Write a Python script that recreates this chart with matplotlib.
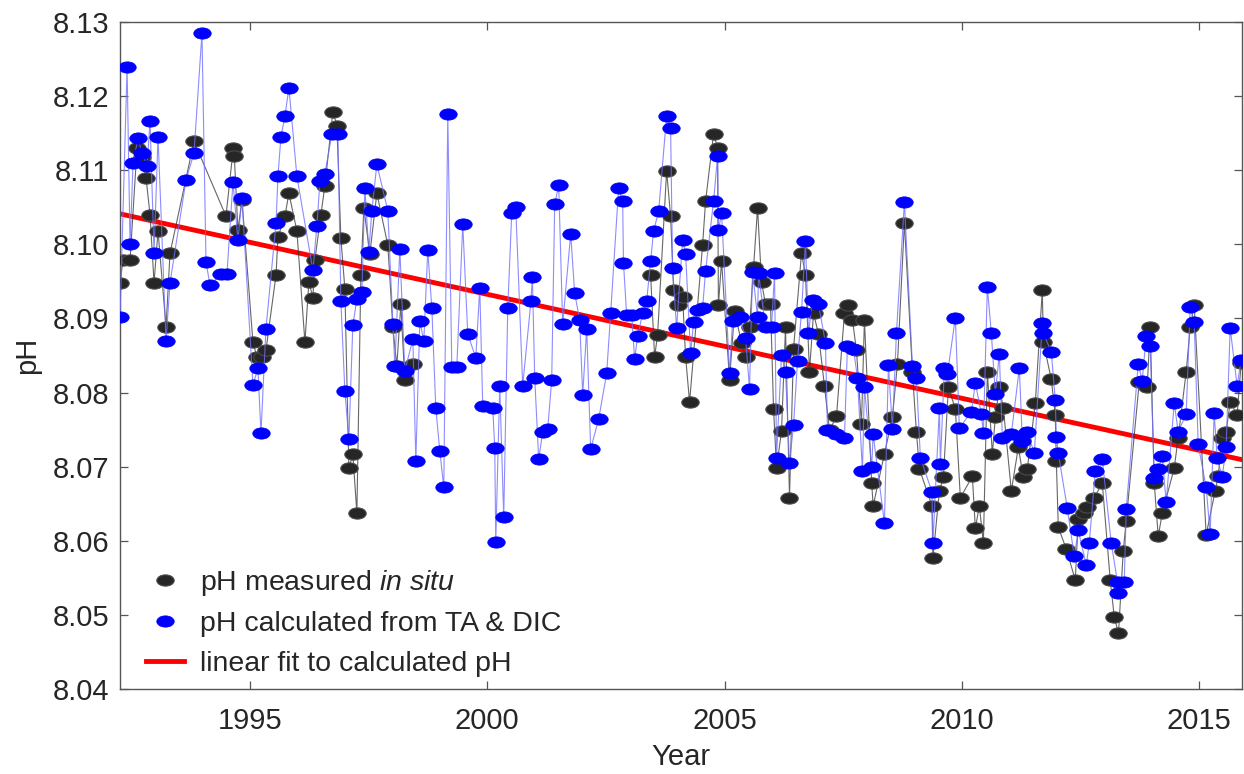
import numpy as np
import matplotlib

matplotlib.use("Agg")
import matplotlib.pyplot as plt
from matplotlib.path import Path
from matplotlib.transforms import Affine2D

plt.rcParams["font.family"] = ["Liberation Sans", "DejaVu Sans"]
plt.rcParams["mathtext.fontset"] = "custom"
plt.rcParams["mathtext.rm"] = "Liberation Sans"
plt.rcParams["mathtext.it"] = "Liberation Sans:italic"

TEXT_COLOR = "#262626"
AXIS_COLOR = "#555555"
BLACK_FILL = "#262626"
BLUE = "#0000FF"
RED = "#FF0000"

# pH measured in situ (nan = gap in the record, 1998-2003)
meas_year = [
    1992.263, 1992.326, 1992.474, 1992.621, 1992.726, 1992.811, 1992.895, 1992.979,
    1993.063, 1993.232, 1993.316, 1993.821, 1994.495, 1994.650, 1994.670, 1994.747,
    1994.832, 1995.063, 1995.147, 1995.253, 1995.337, 1995.550, 1995.590, 1995.737,
    1995.821, 1995.989, 1996.158, 1996.242, 1996.326, 1996.368, 1996.495, 1996.579,
    1996.747, 1996.832, 1996.916, 1997.000, 1997.084, 1997.168, 1997.253, 1997.337,
    1997.400, 1997.526, 1997.674, 1997.905, 1998.011, 1998.095, 1998.179, 1998.263,
    1998.432, np.nan,
    2003.442, 2003.526, 2003.589, 2003.779, 2003.863, 2003.926, 2004.011, 2004.116,
    2004.179, 2004.263, 2004.537, 2004.600, 2004.768, 2004.853, 2004.870, 2004.937,
    2005.105, 2005.211, 2005.358, 2005.442, 2005.526, 2005.611, 2005.695, 2005.779,
    2005.863, 2005.968, 2006.032, 2006.095, 2006.200, 2006.284, 2006.368, 2006.453,
    2006.621, 2006.705, 2006.789, 2006.874, 2006.979, 2007.105, 2007.211, 2007.358,
    2007.526, 2007.611, 2007.695, 2007.779, 2007.884, 2007.947, 2008.100, 2008.130,
    2008.368, 2008.537, 2008.642, 2008.789, 2008.958, 2009.042, 2009.105, 2009.370,
    2009.390, 2009.526, 2009.611, 2009.716, 2009.863, 2009.968, 2010.221, 2010.284,
    2010.368, 2010.453, 2010.537, 2010.642, 2010.705, 2010.789, 2010.874, 2011.042,
    2011.189, 2011.295, 2011.379, 2011.547, 2011.695, 2011.716, 2011.884, 2011.968,
    2011.990, 2012.032, 2012.200, 2012.389, 2012.453, 2012.579, 2012.642, 2012.789,
    2012.958, 2013.126, 2013.211, 2013.300, 2013.400, 2013.463, 2013.737, 2013.905,
    2013.968, 2014.053, 2014.137, 2014.221, 2014.474, 2014.558, 2014.726, 2014.811,
    2014.895, 2015.147, 2015.337, 2015.400, 2015.484, 2015.568, 2015.653, 2015.800,
    2015.884,
]
meas_ph = [
    8.0948, 8.0979, 8.0979, 8.1130, 8.1118, 8.1089, 8.1040, 8.0948,
    8.1018, 8.0888, 8.0988, 8.1139, 8.1038, 8.1130, 8.1119, 8.1019,
    8.1060, 8.0868, 8.0848, 8.0848, 8.0857, 8.0959, 8.1010, 8.1038,
    8.1069, 8.1018, 8.0868, 8.0949, 8.0928, 8.0979, 8.1040, 8.1079,
    8.1179, 8.1160, 8.1008, 8.0940, 8.0698, 8.0717, 8.0637, 8.0959,
    8.1049, 8.0987, 8.1069, 8.0999, 8.0888, 8.0836, 8.0919, 8.0817,
    8.0838, np.nan,
    8.0959, 8.0848, 8.0878, 8.1099, 8.1038, 8.0938, 8.0918, 8.0929,
    8.0848, 8.0787, 8.0999, 8.1058, 8.1149, 8.1130, 8.0918, 8.0977,
    8.0817, 8.0910, 8.0867, 8.0848, 8.0888, 8.0969, 8.1049, 8.0949,
    8.0919, 8.0919, 8.0778, 8.0698, 8.0748, 8.0888, 8.0658, 8.0859,
    8.0988, 8.0959, 8.0828, 8.0907, 8.0879, 8.0809, 8.0749, 8.0768,
    8.0907, 8.0918, 8.0898, 8.0857, 8.0757, 8.0898, 8.0678, 8.0647,
    8.0717, 8.0767, 8.0838, 8.1029, 8.0828, 8.0747, 8.0697, 8.0647,
    8.0577, 8.0667, 8.0686, 8.0807, 8.0778, 8.0658, 8.0687, 8.0617,
    8.0647, 8.0597, 8.0828, 8.0717, 8.0767, 8.0807, 8.0779, 8.0667,
    8.0726, 8.0686, 8.0697, 8.0786, 8.0938, 8.0868, 8.0818, 8.0770,
    8.0708, 8.0618, 8.0589, 8.0547, 8.0629, 8.0637, 8.0646, 8.0658,
    8.0678, 8.0547, 8.0497, 8.0475, 8.0586, 8.0627, 8.0814, 8.0807,
    8.0888, 8.0678, 8.0606, 8.0637, 8.0698, 8.0739, 8.0828, 8.0888,
    8.0918, 8.0608, 8.0667, 8.0687, 8.0739, 8.0747, 8.0787, 8.0770,
    8.0840,
]

# pH calculated from TA & DIC
calc_year = [
    1992.263, 1992.411, 1992.474, 1992.537, 1992.642, 1992.726, 1992.832, 1992.895,
    1992.979, 1993.063, 1993.232, 1993.316, 1993.653, 1993.821, 1993.989, 1994.074,
    1994.158, 1994.389, 1994.516, 1994.642, 1994.747, 1994.832, 1995.063, 1995.168,
    1995.232, 1995.337, 1995.550, 1995.590, 1995.653, 1995.737, 1995.821, 1995.989,
    1996.326, 1996.411, 1996.474, 1996.579, 1996.726, 1996.853, 1996.916, 1997.000,
    1997.084, 1997.168, 1997.253, 1997.358, 1997.421, 1997.505, 1997.568, 1997.674,
    1997.905, 1998.011, 1998.053, 1998.158, 1998.263, 1998.432, 1998.495, 1998.579,
    1998.663, 1998.747, 1998.832, 1998.916, 1999.000, 1999.084, 1999.168, 1999.253,
    1999.358, 1999.484, 1999.589, 1999.758, 1999.842, 1999.905, 2000.116, 2000.158,
    2000.179, 2000.263, 2000.347, 2000.432, 2000.516, 2000.600, 2000.747, 2000.920,
    2000.950, 2001.000, 2001.084, 2001.168, 2001.274, 2001.358, 2001.421, 2001.505,
    2001.589, 2001.758, 2001.842, 2001.947, 2002.011, 2002.095, 2002.179, 2002.347,
    2002.516, 2002.600, 2002.768, 2002.853, 2002.870, 2002.937, 2003.042, 2003.105,
    2003.168, 2003.274, 2003.358, 2003.442, 2003.505, 2003.611, 2003.779, 2003.863,
    2003.905, 2003.989, 2004.116, 2004.179, 2004.284, 2004.347, 2004.432, 2004.537,
    2004.600, 2004.768, 2004.853, 2004.870, 2004.937, 2005.105, 2005.168, 2005.316,
    2005.442, 2005.526, 2005.589, 2005.695, 2005.716, 2005.863, 2005.989, 2006.053,
    2006.095, 2006.200, 2006.284, 2006.368, 2006.453, 2006.537, 2006.621, 2006.705,
    2006.768, 2006.853, 2006.979, 2007.126, 2007.168, 2007.358, 2007.526, 2007.589,
    2007.716, 2007.800, 2007.905, 2007.947, 2008.100, 2008.130, 2008.368, 2008.453,
    2008.537, 2008.621, 2008.789, 2008.958, 2009.042, 2009.126, 2009.370, 2009.390,
    2009.526, 2009.547, 2009.632, 2009.695, 2009.863, 2009.947, 2010.200, 2010.284,
    2010.411, 2010.453, 2010.537, 2010.621, 2010.705, 2010.789, 2010.853, 2011.042,
    2011.211, 2011.274, 2011.379, 2011.526, 2011.695, 2011.716, 2011.884, 2011.968,
    2011.990, 2012.032, 2012.221, 2012.368, 2012.453, 2012.621, 2012.684, 2012.811,
    2012.958, 2013.147, 2013.280, 2013.300, 2013.421, 2013.463, 2013.716, 2013.800,
    2013.884, 2013.968, 2014.053, 2014.137, 2014.221, 2014.305, 2014.474, 2014.558,
    2014.726, 2014.811, 2014.895, 2014.979, 2015.147, 2015.232, 2015.316, 2015.379,
    2015.484, 2015.568, 2015.653, 2015.800, 2015.884,
]
calc_ph = [
    8.0902, 8.1239, 8.1000, 8.1110, 8.1143, 8.1123, 8.1106, 8.1166,
    8.0988, 8.1145, 8.0870, 8.0948, 8.1087, 8.1123, 8.1285, 8.0976,
    8.0945, 8.0960, 8.0960, 8.1084, 8.1006, 8.1062, 8.0810, 8.0833,
    8.0745, 8.0886, 8.1029, 8.1092, 8.1145, 8.1173, 8.1211, 8.1092,
    8.0965, 8.1025, 8.1085, 8.1095, 8.1149, 8.1149, 8.0923, 8.0802,
    8.0737, 8.0891, 8.0926, 8.0936, 8.1076, 8.0990, 8.1045, 8.1108,
    8.1045, 8.0892, 8.0836, 8.0994, 8.0829, 8.0872, 8.0708, 8.0896,
    8.0870, 8.0992, 8.0914, 8.0779, 8.0721, 8.0672, 8.1176, 8.0834,
    8.0834, 8.1027, 8.0879, 8.0847, 8.0941, 8.0782, 8.0779, 8.0725,
    8.0598, 8.0809, 8.0632, 8.0914, 8.1042, 8.1050, 8.0809, 8.0923,
    8.0956, 8.0820, 8.0710, 8.0747, 8.0751, 8.0817, 8.1054, 8.1080,
    8.0892, 8.1014, 8.0934, 8.0898, 8.0797, 8.0886, 8.0724, 8.0764,
    8.0826, 8.0907, 8.1076, 8.1058, 8.0975, 8.0905, 8.0905, 8.0845,
    8.0876, 8.0907, 8.0923, 8.0977, 8.1018, 8.1045, 8.1173, 8.1157,
    8.0968, 8.0887, 8.1006, 8.0987, 8.0853, 8.0895, 8.0911, 8.0914,
    8.0964, 8.1058, 8.1119, 8.1019, 8.1042, 8.0826, 8.0896, 8.0902,
    8.0874, 8.0805, 8.0963, 8.0902, 8.0961, 8.0888, 8.0888, 8.0961,
    8.0712, 8.0851, 8.0828, 8.0705, 8.0756, 8.0843, 8.0909, 8.1004,
    8.0880, 8.0925, 8.0919, 8.0867, 8.0749, 8.0744, 8.0739, 8.0863,
    8.0859, 8.0820, 8.0694, 8.0807, 8.0699, 8.0744, 8.0624, 8.0837,
    8.0751, 8.0880, 8.1057, 8.0836, 8.0820, 8.0712, 8.0666, 8.0597,
    8.0779, 8.0704, 8.0833, 8.0825, 8.0901, 8.0752, 8.0774, 8.0813,
    8.0771, 8.0745, 8.0942, 8.0880, 8.0798, 8.0852, 8.0739, 8.0744,
    8.0833, 8.0735, 8.0747, 8.0718, 8.0894, 8.0880, 8.0855, 8.0790,
    8.0740, 8.0718, 8.0644, 8.0579, 8.0614, 8.0567, 8.0597, 8.0694,
    8.0710, 8.0597, 8.0544, 8.0529, 8.0544, 8.0643, 8.0838, 8.0816,
    8.0876, 8.0863, 8.0685, 8.0697, 8.0714, 8.0652, 8.0786, 8.0747,
    8.0771, 8.0915, 8.0895, 8.0730, 8.0672, 8.0609, 8.0772, 8.0712,
    8.0686, 8.0726, 8.0887, 8.0809, 8.0844,
]

x_ticks = [1995, 2000, 2005, 2010, 2015]
y_ticks = [8.04, 8.05, 8.06, 8.07, 8.08, 8.09, 8.10, 8.11, 8.12, 8.13]

# flat ellipse marker, like the original figure
ellipse = Path.unit_circle().transformed(Affine2D().scale(1.55, 1.0))

calc_year_arr = np.asarray(calc_year)
calc_ph_arr = np.asarray(calc_ph)
slope, intercept = np.polyfit(calc_year_arr, calc_ph_arr, 1)

fig = plt.figure(figsize=(12.44, 7.74), dpi=100)
ax = fig.add_axes([0.0965, 0.1098, 0.902, 0.8618])

ax.plot(calc_year_arr, slope * calc_year_arr + intercept, color=RED, linewidth=3.5, zorder=1,
        label="linear fit to calculated pH")

ax.plot(meas_year, meas_ph, color="#333333", linewidth=0.8, alpha=0.75, zorder=2)
ax.plot(meas_year, meas_ph, linestyle="none", marker=ellipse, markersize=12.5,
        markerfacecolor=BLACK_FILL, markeredgecolor="#4a4a4a", markeredgewidth=0.8, zorder=3,
        label=r"pH measured $\mathit{in\ situ}$")

ax.plot(calc_year, calc_ph, color="#6f6fff", linewidth=0.8, alpha=0.8, zorder=4)
ax.plot(calc_year, calc_ph, linestyle="none", marker=ellipse, markersize=12.5,
        markerfacecolor=BLUE, markeredgecolor=BLUE, markeredgewidth=0.6, zorder=5,
        label="pH calculated from TA & DIC")

ax.set_xlim(1992.263, 2015.905)
ax.set_ylim(8.04, 8.13)
ax.set_xticks(x_ticks)
ax.set_yticks(y_ticks)
ax.set_yticklabels([f"{v:.2f}" for v in y_ticks])

for side in ["top", "bottom", "left", "right"]:
    ax.spines[side].set_color(AXIS_COLOR)
    ax.spines[side].set_linewidth(1.0)
ax.tick_params(axis="both", which="major", direction="in", length=6, width=0.9,
               color=AXIS_COLOR, labelcolor=TEXT_COLOR, labelsize=21,
               top=True, right=True)
ax.tick_params(axis="x", pad=13)
ax.tick_params(axis="y", pad=8)

ax.set_xlabel("Year", fontsize=21, color=TEXT_COLOR, labelpad=6)
ax.set_ylabel("pH", fontsize=21, color=TEXT_COLOR, labelpad=8)

handles, labels = ax.get_legend_handles_labels()
order = [1, 2, 0]
leg = ax.legend([handles[i] for i in order], [labels[i] for i in order],
                loc="upper left", bbox_to_anchor=(0.013, 0.199), frameon=False,
                fontsize=20.5, handlelength=1.35, handletextpad=0.55, labelspacing=0.48,
                borderaxespad=0.0)
for text in leg.get_texts():
    text.set_color(TEXT_COLOR)

fig.savefig("out.png", dpi=100)
